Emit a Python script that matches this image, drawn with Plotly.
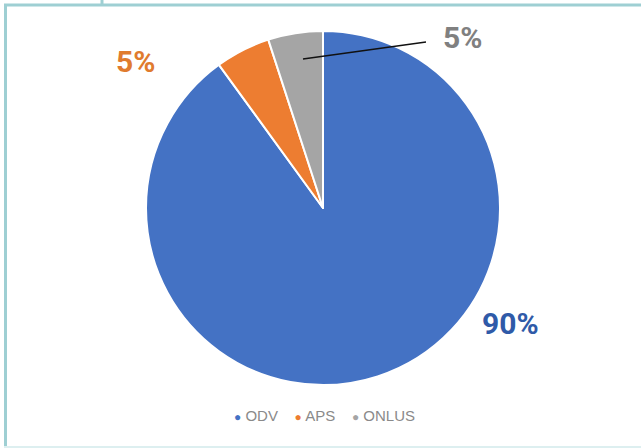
"""Pie chart: share of ODV / APS / ONLUS organisations."""

import plotly.graph_objects as go

LABELS = ["ODV", "APS", "ONLUS"]
VALUES = [90, 5, 5]
COLORS = ["#4472C4", "#ED7D31", "#A5A5A5"]
TEXT_COLORS = ["#2F5AA8", "#E07B2E", "#808080"]
FRAME = "#9ECFD3"

W, H = 641, 448


def px(x, y):
    """Pixel position (from top-left) -> paper coords."""
    return x / W, 1 - y / H


fig = go.Figure()

fig.add_trace(go.Pie(
    labels=LABELS,
    values=VALUES,
    sort=False,
    direction="clockwise",
    rotation=0,
    textinfo="none",
    hoverinfo="label+percent",
    showlegend=False,
    marker=dict(colors=COLORS, line=dict(color="white", width=2)),
    domain=dict(x=[146 / W, 500 / W], y=[1 - 385 / H, 1 - 31 / H]),
))

label_font = "Liberation Sans Narrow, Arial Narrow, Roboto, sans-serif"
pct = [f"{v}%" for v in VALUES]
centered = dict(xref="paper", yref="paper", xanchor="center", yanchor="middle")

# 90% label (ODV)
x, y = px(510, 323)
fig.add_annotation(x=x, y=y, **centered, text=f"<b>{pct[0]}</b>", showarrow=False,
                   font=dict(family=label_font, size=30, color=TEXT_COLORS[0]))
# 5% label (APS)
x, y = px(135, 61)
fig.add_annotation(x=x, y=y, **centered, text=f"<b>{pct[1]}</b>", showarrow=False,
                   font=dict(family=label_font, size=30, color=TEXT_COLORS[1]))
# 5% label (ONLUS) with leader line
x, y = px(303, 59)
fig.add_annotation(x=x, y=y, xref="paper", yref="paper", text=f"<b>{pct[2]}</b>",
                   showarrow=True, arrowhead=0, arrowwidth=1.4, arrowcolor="#111",
                   ax=462 - 303, ay=37 - 59, borderpad=16,
                   font=dict(family=label_font, size=30, color=TEXT_COLORS[2]))

# custom legend with round markers
legend_txt = "    ".join(
    f'<span style="color:{c};font-size:12px">●</span> {lab}' for lab, c in zip(LABELS, COLORS)
)
x, y = px(325, 415)
fig.add_annotation(x=x, y=y, **centered, text=legend_txt, showarrow=False,
                   font=dict(family="Liberation Sans, Arial, sans-serif", size=15, color="#8a8a8a"))

# frame around the picture
frame = dict(type="line", xref="paper", yref="paper", line=dict(color=FRAME, width=3))
fig.add_shape(**frame, x0=5.5 / W, x1=5.5 / W, y0=0, y1=1 - 4 / H)
fig.add_shape(**frame, x0=4 / W, x1=1, y0=1 - 5 / H, y1=1 - 5 / H)
fig.add_shape(**frame, x0=102 / W, x1=102 / W, y0=1 - 5 / H, y1=1)
fig.add_shape(type="line", xref="paper", yref="paper", x0=4 / W, x1=1, y0=1 / H, y1=1 / H,
              line=dict(color="#DDEFF0", width=2))

fig.update_layout(
    width=W,
    height=H,
    margin=dict(l=0, r=0, t=0, b=0),
    paper_bgcolor="white",
    plot_bgcolor="white",
)

fig.write_html(
    "out.html",
    config={"displayModeBar": False},
    post_script="document.body.style.margin='0';document.body.style.overflow='hidden';",
)
